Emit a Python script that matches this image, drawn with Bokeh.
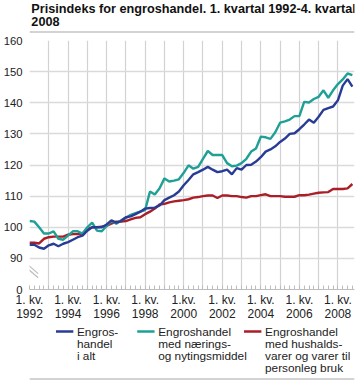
from bokeh.plotting import figure
from bokeh.models import FixedTicker, Range1d
from bokeh.layouts import column
from bokeh.core.properties import value
from bokeh.embed import file_html
from bokeh.resources import INLINE

# ---------------- data ----------------
years = list(range(1992, 2009))
quarters = [f"{y}K{q}" for y in years for q in range(1, 5)]

engros_i_alt = [
    94.4, 94.4, 93.5, 93.1,
    94.2, 94.7, 93.9, 94.7,
    95.2, 96.0, 96.8, 97.3,
    98.9, 100.0, 100.0, 100.0,
    100.9, 102.2, 101.5, 102.0,
    103.2, 103.5, 104.2, 105.0,
    106.0, 106.2, 106.3, 107.0,
    108.7, 109.5, 110.3, 111.5,
    113.5, 115.2, 117.0, 117.7,
    118.5, 119.4, 118.5, 117.7,
    118.0, 118.5, 117.0, 119.0,
    118.5, 120.0, 120.1, 121.1,
    122.5, 124.3, 125.0, 126.0,
    127.4, 128.5, 130.0, 130.2,
    131.5, 133.0, 134.6, 133.6,
    135.5, 137.7, 138.3, 138.8,
    140.8, 145.5, 147.6, 145.2,
]
naerings = [
    102.0, 101.8, 100.0, 98.0,
    98.0, 98.7, 96.3, 96.0,
    97.3, 98.7, 98.7, 98.0,
    100.0, 101.5, 98.9, 98.7,
    100.4, 102.0, 101.1, 102.2,
    103.0, 104.0, 104.5, 105.0,
    105.5, 111.5, 110.5, 112.5,
    115.7, 114.7, 115.0, 115.4,
    117.5, 119.9, 118.8, 119.4,
    122.0, 124.5, 123.2, 123.2,
    123.2, 120.6, 119.6, 119.8,
    120.6, 122.0, 124.3, 125.3,
    129.1, 128.9, 128.4, 130.5,
    133.6, 134.0, 134.6, 135.7,
    135.7, 140.3, 140.1, 141.2,
    141.9, 144.0, 141.6, 144.0,
    146.0, 147.5, 149.4, 148.9,
]
hushalds = [
    95.0, 95.0, 94.8, 96.3,
    96.8, 97.0, 97.0, 97.0,
    97.6, 97.8, 97.8, 98.0,
    99.4, 100.0, 100.0, 100.2,
    100.4, 101.2, 101.8, 101.8,
    102.0, 102.5, 103.0, 103.2,
    104.2, 105.0, 106.0, 107.3,
    107.5, 108.0, 108.3, 108.5,
    108.7, 109.0, 109.5, 109.7,
    110.0, 110.2, 110.2, 109.4,
    110.2, 110.2, 110.0, 110.0,
    109.7, 109.5, 110.0, 110.0,
    110.3, 110.6, 110.0, 110.0,
    110.0, 109.8, 109.8, 109.8,
    110.3, 110.3, 110.5, 110.8,
    111.1, 111.2, 111.3, 112.3,
    112.3, 112.3, 112.5, 113.9,
]

x_tick_labels = ["1. kv.\n1992", "", "1. kv.\n1994", "", "1. kv.\n1996", "",
                 "1. kv.\n1998", "", "1.kv.\n2000", "", "1. kv.\n2002", "",
                 "1. kv.\n2004", "", "1. kv.\n2006", "", "1. kv.\n2008"]
y_tick_values = [80, 90, 100, 110, 120, 130, 140, 150, 160]
y_tick_labels = ["0", "90", "100", "110", "120", "130", "140", "150", "160"]

series_names = ["Engros-\nhandel\ni alt",
                "Engroshandel\nmed nærings-\nog nytingsmiddel",
                "Engroshandel\nmed hushalds-\nvarer og varer til\npersonleg bruk"]
colors = ["#283c96", "#1fa096", "#aa1e28"]

title_text = "Prisindeks for engroshandel. 1. kvartal 1992-4. kvartal\n2008"

# quarter -> numeric time
xq = [int(q[:4]) + (int(q[-1]) - 1) / 4 for q in quarters]

FONT = "Liberation Sans"
W = 356


def blank(height):
    f = figure(width=W, height=height, output_backend="svg", toolbar_location=None,
               x_range=Range1d(0, W), y_range=Range1d(height, 0),
               x_axis_type=None, y_axis_type=None, min_border=0)
    f.outline_line_color = None
    f.background_fill_color = "white"
    f.border_fill_color = "white"
    return f


# ---------------- title ----------------
TH = 34
t = blank(TH)
t.text(x=[2], y=[1], text=[title_text], text_font=value(FONT), text_font_style="bold",
       text_font_size="12.7px", text_line_height=0.93, text_baseline="top",
       text_align="left", text_color="#111111")
t.segment(x0=[0], y0=[31.5], x1=[W], y1=[31.5], line_color="#c4c4c4", line_width=1.5)

# ---------------- main chart ----------------
MH = 290
p = figure(width=W, height=MH, output_backend="svg", toolbar_location=None,
           x_range=Range1d(1992, 2008.86), y_range=Range1d(80, 160),
           min_border_left=28, min_border_right=2, min_border_top=6,
           min_border_bottom=34)
p.outline_line_color = None
p.background_fill_color = "white"
p.border_fill_color = "white"

p.xaxis.ticker = FixedTicker(ticks=years, minor_ticks=xq)
p.xaxis.major_label_overrides = {y: l for y, l in zip(years, x_tick_labels)}
p.xaxis.major_label_text_font = FONT
p.xaxis.major_label_text_font_size = "12px"
p.xaxis.major_label_text_color = "#222222"
p.xaxis.major_label_text_line_height = 1.05
p.xaxis.major_label_standoff = 3
p.xaxis.major_tick_in = 0
p.xaxis.major_tick_out = 0
p.xaxis.minor_tick_in = 4
p.xaxis.minor_tick_out = 0
p.xaxis.minor_tick_line_color = "#bdbdbd"
p.xaxis.axis_line_color = "#bdbdbd"

p.yaxis.ticker = FixedTicker(ticks=y_tick_values, minor_ticks=[])
p.yaxis.major_label_overrides = {v: l for v, l in zip(y_tick_values, y_tick_labels)}
p.yaxis.major_label_text_font = FONT
p.yaxis.major_label_text_font_size = "11.3px"
p.yaxis.major_label_text_color = "#222222"
p.yaxis.major_label_standoff = 7
p.yaxis.major_tick_in = 0
p.yaxis.major_tick_out = 0
p.yaxis.minor_tick_line_color = None
p.yaxis.axis_line_color = None

p.xgrid.ticker = FixedTicker(ticks=years)
p.ygrid.ticker = FixedTicker(ticks=y_tick_values[1:])
p.xgrid.grid_line_color = "#d2d2d2"
p.ygrid.grid_line_color = "#dadada"
p.xgrid.grid_line_width = 1.2
p.ygrid.grid_line_width = 1.6

# axis break marker
p.segment(x0=[1992], y0=[84.3], x1=[1992], y1=[87.6], line_color="white", line_width=4)
p.segment(x0=[1991.9, 1991.9], y0=[88.0, 86.7], x1=[1992.45, 1992.45], y1=[85.1, 83.8],
          line_color="#bdbdbd", line_width=1.2)

for vals, col in zip([hushalds, naerings, engros_i_alt], [colors[2], colors[1], colors[0]]):
    p.line(xq, vals, line_color=col, line_width=2.4)

# ---------------- legend ----------------
LH = 56
lg = blank(LH)
leg_x = [29, 118, 235]
lg.segment(x0=leg_x, y0=[7] * 3, x1=[x + 19 for x in leg_x], y1=[7] * 3,
           line_color=colors, line_width=2.5)
lg.text(x=[x + 23 for x in leg_x], y=[0] * 3, text=series_names,
        text_font=value(FONT), text_font_size="11.8px", text_line_height=0.88,
        text_baseline="top", text_align="left", text_color="#222222")
lg.segment(x0=[0], y0=[54.5], x1=[W], y1=[54.5], line_color="#c4c4c4", line_width=1.5)

layout = column(t, p, lg, spacing=0)
open("out.html", "w").write(file_html(layout, INLINE))
